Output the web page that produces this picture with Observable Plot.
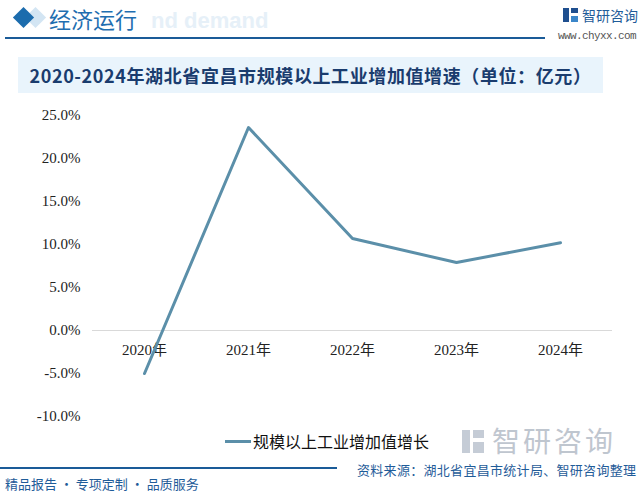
<!DOCTYPE html>
<html>
<head>
<meta charset="utf-8">
<script src="https://cdn.jsdelivr.net/npm/d3@7"></script>
<script src="https://cdn.jsdelivr.net/npm/@observablehq/plot@0.6"></script>
<style>
  html, body { margin: 0; padding: 0; background: #fff; }
  #page { position: relative; width: 639px; height: 496px; overflow: hidden; font-family: "Noto Sans CJK SC", sans-serif; }
  .abs { position: absolute; white-space: nowrap; }
  #chart { position: absolute; left: 0; top: 100px; }
</style>
</head>
<body>
<div id="page">
  <!-- header -->
  <div class="abs" style="left:28px;top:10px;width:15px;height:15px;background:#d3e5f3;transform:rotate(45deg);"></div>
  <div class="abs" style="left:16px;top:10px;width:15px;height:15px;background:#1c6cad;transform:rotate(45deg);"></div>
  <div class="abs" style="left:151px;top:8px;font-size:22px;font-weight:bold;color:#e6f0f8;font-family:'Liberation Sans',sans-serif;">nd demand</div>
  <div class="abs" style="left:49px;top:3px;font-size:22px;color:#1f6eb0;line-height:30px;">经济运行</div>
  <div class="abs" style="left:5px;top:37px;width:540px;height:2px;background:#1a5b98;"></div>
  <div class="abs" style="left:563px;top:8px;width:6px;height:14px;background:#1f4f8f;"></div>
  <div class="abs" style="left:571px;top:8px;width:7px;height:5px;background:#1f4f8f;"></div>
  <div class="abs" style="left:571px;top:16px;width:7px;height:6px;background:#3b86c9;"></div>
  <div class="abs" style="left:582px;top:5px;font-size:14px;color:#1f5c99;line-height:20px;">智研咨询</div>
  <div class="abs" style="left:558px;top:30px;font-size:11px;color:#555;font-family:'Liberation Mono',monospace;letter-spacing:-0.6px;">www.chyxx.com</div>

  <!-- title band -->
  <div class="abs" style="left:18px;top:57px;width:585px;height:36px;background:#e9f4fc;"></div>
  <div class="abs" style="left:18px;top:57px;width:585px;height:36px;line-height:36px;text-align:center;font-size:18px;font-weight:bold;color:#1a3c6e;letter-spacing:0.6px;">2020-2024年湖北省宜昌市规模以上工业增加值增速（单位：亿元）</div>

  <div id="chart"></div>

  <!-- legend -->
  <div class="abs" style="left:225px;top:440px;width:26px;height:3px;background:#5b8fa9;"></div>
  <div class="abs" id="legendText" style="left:253px;top:430px;font-size:16px;line-height:22px;color:#111;"></div>

  <!-- watermark logo bottom right -->
  <div class="abs" style="left:462px;top:430px;width:8px;height:23px;background:#c5ccd6;"></div>
  <div class="abs" style="left:473px;top:430px;width:11px;height:8px;background:#c5ccd6;"></div>
  <div class="abs" style="left:473px;top:442px;width:11px;height:11px;background:#c5ccd6;"></div>
  <div class="abs" style="left:492px;top:423px;font-size:28px;line-height:34px;color:#bfc6cf;letter-spacing:3px;">智研咨询</div>

  <!-- footer -->
  <div class="abs" style="left:0px;top:467px;width:337px;height:2px;background:#1a5b98;"></div>
  <div class="abs" style="left:357px;top:460px;font-size:13px;line-height:20px;color:#1f5c99;letter-spacing:0.3px;">资料来源：湖北省宜昌市统计局、智研咨询整理</div>
  <div class="abs" style="left:5px;top:474px;font-size:13px;line-height:20px;color:#1f5c99;">精品报告 · 专项定制 · 品质服务</div>
</div>
<script>
const years = ["2020年", "2021年", "2022年", "2023年", "2024年"];
const growth = [-5.0, 23.6, 10.7, 7.9, 10.2];
const yTicks = [-10, -5, 0, 5, 10, 15, 20, 25];
const seriesName = "规模以上工业增加值增长";

document.getElementById("legendText").textContent = seriesName;

const data = years.map((y, i) => ({year: y, value: growth[i]}));

const chart = Plot.plot({
  width: 639,
  height: 330,
  marginLeft: 92,
  marginRight: 27,
  marginTop: 15,
  marginBottom: 14,
  style: {background: "transparent", fontFamily: "'Liberation Serif', 'Noto Sans CJK SC', serif"},
  x: {type: "point", domain: years, padding: 0.5, axis: null},
  y: {domain: [-10, 25], axis: null},
  marks: [
    Plot.ruleY([0], {stroke: "#d9d9d9", strokeWidth: 1}),
    Plot.text(yTicks, {
      x: () => years[0], y: d => d, text: d => d.toFixed(1) + "%",
      frameAnchor: "left", textAnchor: "end", dx: -64, fontSize: 15, fill: "#222"
    }),
    Plot.text(years, {x: d => d, y: 0, text: d => d, dy: 20, fontSize: 15, fill: "#222"}),
    Plot.line(data, {x: "year", y: "value", stroke: "#5b8fa9", strokeWidth: 3})
  ]
});
document.getElementById("chart").appendChild(chart);
</script>
</body>
</html>
